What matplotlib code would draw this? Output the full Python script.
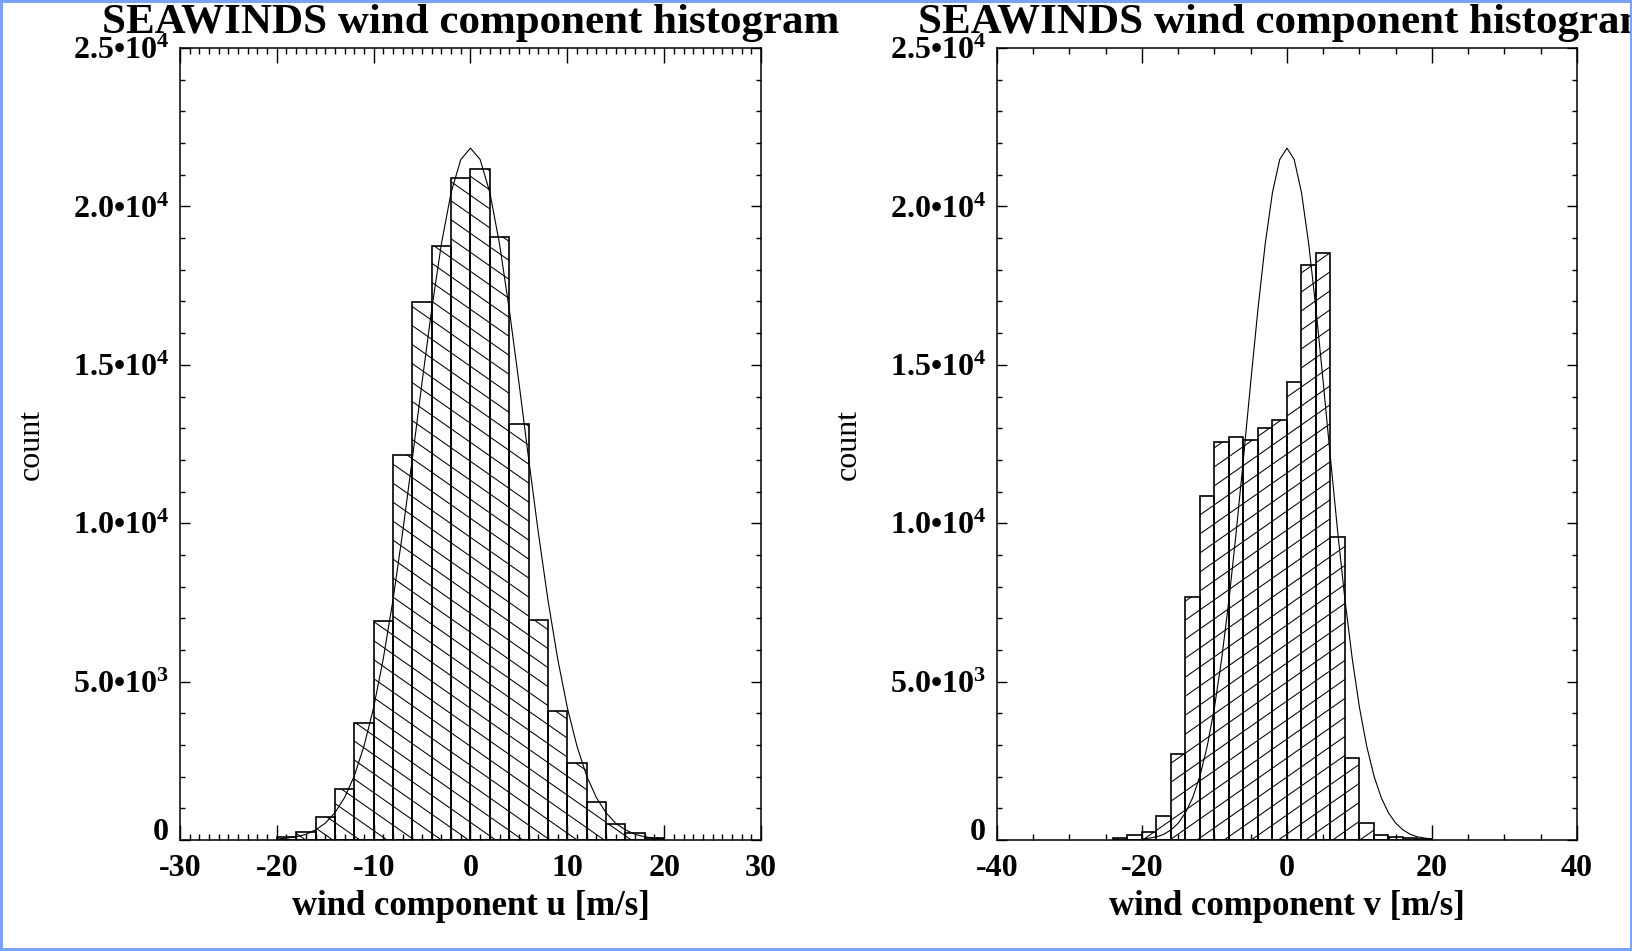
import numpy as np
import matplotlib
matplotlib.use('Agg')
import matplotlib.pyplot as plt
from matplotlib.patches import Polygon, Rectangle
from matplotlib.collections import LineCollection
from matplotlib.ticker import MultipleLocator, FixedLocator, FixedFormatter

# histogram of u component, 2 m/s bins from -20 to 20 (counts in thousands)
u_edges = np.arange(-20, 21, 2)
u_counts = [0.08, 0.26, 0.72, 1.60, 3.69, 6.90, 12.15, 16.98, 18.74, 20.89,
            21.18, 19.02, 13.12, 6.95, 4.08, 2.42, 1.21, 0.50, 0.21, 0.07]

# histogram of v component, 2 m/s bins from -24 to 20 (counts in thousands)
v_edges = np.arange(-24, 21, 2)
v_counts = [0.05, 0.16, 0.26, 0.76, 2.72, 7.66, 10.86, 12.56, 12.73, 12.64, 13.00,
            13.27, 14.45, 18.14, 18.54, 9.56, 2.58, 0.53, 0.16, 0.08, 0.05, 0.03]

# fitted curve drawn on both panels (thousands), sampled every 1 m/s
fit_x = np.arange(-20, 21)
fit_y = [0.03, 0.06, 0.10, 0.18, 0.32, 0.53, 0.86, 1.34, 2.02, 2.96, 4.18,
         5.73, 7.58, 9.72, 12.05, 14.45, 16.76, 18.82, 20.44, 21.48, 21.84,
         21.48, 20.44, 18.82, 16.76, 14.45, 12.05, 9.72, 7.58, 5.73, 4.18,
         2.96, 2.02, 1.34, 0.86, 0.53, 0.32, 0.18, 0.10, 0.06, 0.03]

ytick_vals = [0, 5000, 10000, 15000, 20000, 25000]
ytick_labels = ['0', '5.0•$10^{3}$', '1.0•$10^{4}$', '1.5•$10^{4}$',
                '2.0•$10^{4}$', '2.5•$10^{4}$']

title = 'SEAWINDS wind component histogram'

plt.rcParams['font.family'] = ['Liberation Serif', 'DejaVu Serif']
plt.rcParams['mathtext.fontset'] = 'custom'
plt.rcParams['mathtext.default'] = 'bf'
plt.rcParams['mathtext.bf'] = 'Liberation Serif:bold'
plt.rcParams['mathtext.rm'] = 'Liberation Serif:bold'
plt.rcParams['axes.unicode_minus'] = False

fig = plt.figure(figsize=(16.33, 9.51), dpi=100)
ax1 = fig.add_axes([0.1102, 0.1167, 0.3558, 0.8328])
ax2 = fig.add_axes([0.6105, 0.1167, 0.3552, 0.8328])


def draw_hist(ax, edges, counts, slope, spacing_px):
    counts = np.array(counts) * 1000
    ax.bar(edges[:-1], counts, width=np.diff(edges), align='edge', fill=False,
           edgecolor='black', linewidth=1.2, zorder=3)
    # step outline, only used to clip the hatch lines
    xs = np.repeat(edges, 2)
    ys = np.concatenate([[0], np.repeat(counts, 2), [0]])
    clip = Polygon(np.column_stack([xs, ys]), closed=True, fill=False,
                   edgecolor='none', transform=ax.transData)
    ax.add_patch(clip)
    # hatch lines laid out in axes space so the angle is fixed on screen
    box = ax.get_position()
    w_px = box.width * fig.get_figwidth() * fig.dpi
    h_px = box.height * fig.get_figheight() * fig.dpi
    k = slope * w_px / h_px
    dy = spacing_px / h_px
    segs = [[(0, c), (1, c + k)] for c in np.arange(-2, 3, dy)]
    lc = LineCollection(segs, colors='black', linewidths=0.75,
                        transform=ax.transAxes, zorder=2)
    lc.set_clip_path(clip)
    ax.add_collection(lc, autolim=False)


def style_axes(ax, xlim, xmajor, xminor, xlabel):
    ax.set_xlim(*xlim)
    ax.set_ylim(0, 25000)
    ax.xaxis.set_major_locator(MultipleLocator(xmajor))
    ax.xaxis.set_minor_locator(MultipleLocator(xminor))
    ax.yaxis.set_major_locator(FixedLocator(ytick_vals))
    ax.yaxis.set_major_formatter(FixedFormatter(ytick_labels))
    ax.yaxis.set_minor_locator(MultipleLocator(1000))
    ax.tick_params(which='both', direction='in', top=True, right=True, width=1.0)
    ax.tick_params(axis='x', which='major', length=11, pad=10, labelsize=23)
    ax.tick_params(axis='x', which='minor', length=4.5)
    ax.tick_params(axis='y', which='major', length=7.5, pad=8, labelsize=23)
    ax.tick_params(axis='y', which='minor', length=3.6)
    for lab in ax.get_xticklabels() + ax.get_yticklabels():
        lab.set_fontweight('bold')
    # the zero label sits on its tick rather than centred on it
    ax.get_yticklabels()[0].set_va('baseline')
    for sp in ax.spines.values():
        sp.set_linewidth(1.1)
    ax.set_xlabel(xlabel, fontsize=25, fontweight='bold', labelpad=5)
    ax.text(-0.2565, 0.5, 'count', rotation=90, ha='center', va='center',
            fontsize=23, transform=ax.transAxes)
    ax.set_title(title, fontsize=31, fontweight='bold', pad=11)


draw_hist(ax1, u_edges, u_counts, -0.7, 19)
ax1.plot(fit_x, np.array(fit_y) * 1000, color='black', lw=0.8, zorder=4)
style_axes(ax1, (-30, 30), 10, 1, 'wind component u [m/s]')

draw_hist(ax2, v_edges, v_counts, 0.7, 19)
ax2.plot(fit_x, np.array(fit_y) * 1000, color='black', lw=0.8, zorder=4)
style_axes(ax2, (-40, 40), 20, 5, 'wind component v [m/s]')

# light blue frame round the picture
fig.patches.append(Rectangle((0, 0), 1, 1, transform=fig.transFigure, fill=False,
                             edgecolor='#7aa2f7', linewidth=4.3))

fig.savefig('out.png', dpi=100)
